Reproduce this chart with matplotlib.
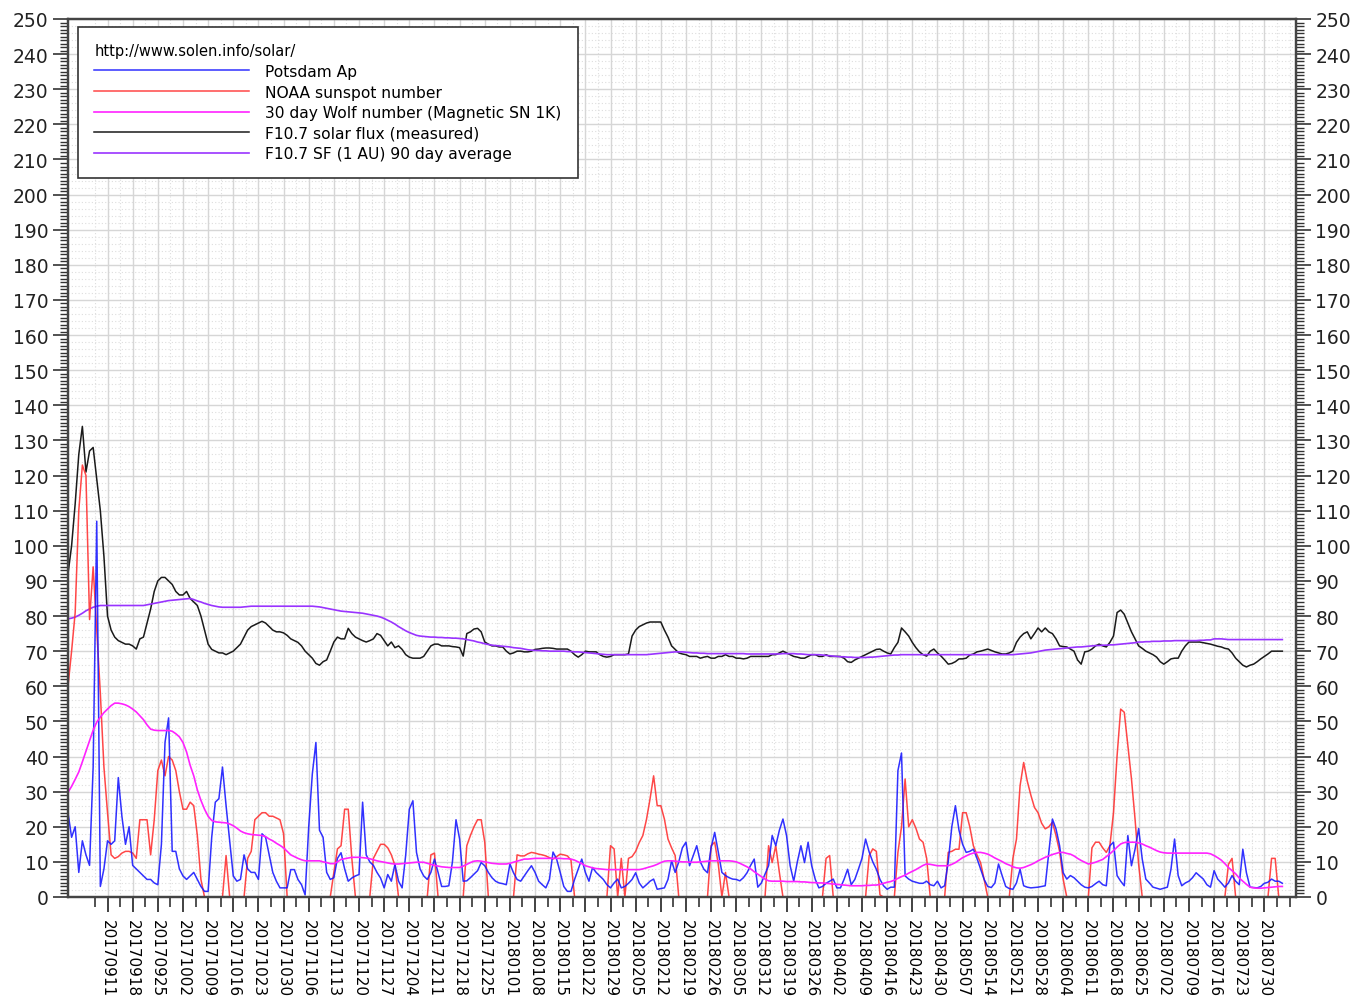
import matplotlib
matplotlib.use("Agg")
import matplotlib.pyplot as plt
import pandas as pd

# daily values, first day 2017-08-31 (one row per 7 days)
start_date = "2017-08-31"

potsdam_ap = [
    24, 17, 20, 7, 16, 12, 9,
    37, 107, 3, 8, 16, 15, 16,
    34, 23, 15, 20, 9, 8, 7,
    6, 5, 5, 4, 3.5, 15, 44,
    51, 13, 13, 8, 6, 5, 6,
    7, 5, 3, 1.6, 1.6, 17, 27,
    28, 37, 26, 16, 6, 4.5, 5,
    12, 8, 7, 7, 5, 18, 17,
    12, 7, 4.5, 2.6, 2.6, 2.6, 7.8,
    7.8, 5, 3.5, 0.6, 20, 35, 44,
    19, 17, 7, 5, 5.5, 11, 12.6,
    8, 4.5, 5.4, 6, 6.4, 27, 12,
    10, 9, 7, 5.4, 2.6, 6.4, 4.5,
    9.3, 4.5, 2.6, 12, 25, 27.4, 12.7,
    8, 6, 5, 7, 10.8, 7, 3,
    3, 3.2, 10, 22, 16.5, 4.5, 4.6,
    5.5, 6.5, 7.5, 9.8, 8.9, 7, 5.5,
    4.5, 4, 3.8, 3.5, 9.4, 6.9, 5,
    4.5, 6, 7.5, 8.9, 7, 4.5, 3.5,
    2.6, 5, 12.8, 10.8, 7, 3, 1.6,
    1.6, 5, 7.9, 10.8, 7, 4.5, 8.4,
    7, 6, 5, 3.5, 2.6, 4, 5.1,
    2.6, 3, 3.9, 5, 6.9, 4, 2.6,
    3.5, 4.5, 5.1, 2.2, 2.4, 2.6, 5,
    10.3, 7, 10, 14, 15.6, 8.9, 11.7,
    14.6, 10, 7.9, 6.9, 14, 18.4, 12.8,
    7, 6.1, 5.5, 5.1, 5, 4.6, 5.5,
    6.9, 9, 10.8, 2.8, 4, 6.5, 8.9,
    17.5, 14.6, 19, 22.2, 17.5, 8.9, 4.5,
    10, 14.6, 9.8, 15.6, 8.9, 5, 2.6,
    3, 3.9, 4.5, 5.1, 2.6, 2.6, 5,
    7.9, 3.5, 5, 7.9, 11, 16.5, 12.8,
    10, 7.9, 5, 3.2, 2.2, 2.8, 2.8,
    36, 41, 6, 5.1, 4.5, 4.2, 3.9,
    3.9, 4.5, 3.5, 3.2, 4.5, 2.6, 3.2,
    10, 20, 26, 19, 15, 12.7, 13,
    13.6, 11, 8, 5, 3, 2.7, 4,
    9.4, 6.1, 3, 2.4, 2.2, 4, 7.9,
    3.2, 2.8, 2.6, 2.7, 2.8, 3, 3.2,
    12.7, 22.2, 19.4, 14.6, 6.9, 5.1, 6.1,
    5.5, 4.5, 3.5, 2.8, 2.6, 3, 3.8,
    4.5, 3.5, 3.2, 14.6, 15.6, 6.1, 4.5,
    3.2, 17.5, 8.9, 13.6, 19.5, 10.8, 5.1,
    4, 2.8, 2.5, 2.2, 2.5, 2.8, 7.9,
    16.5, 6.1, 3.2, 4, 4.5, 5.5, 6.9,
    6, 5.1, 3.5, 2.8, 7.5, 5.1, 4,
    2.8, 4, 6.1, 4.5, 3.5, 13.6, 6.9,
    2.8, 2.7, 2.6, 3, 3.9, 4.2, 5.1,
    4.5, 4.5, 3.9,
]

noaa_ssn = [
    60, 70, 81, 110, 123, 120, 79,
    94, 76, 58, 37, 24, 12, 11,
    11.5, 12.5, 13, 13, 12.5, 11, 22,
    22, 22, 12, 22, 36, 39, 34.5,
    40, 39, 36, 30, 25, 25, 27,
    26, 17.5, 5, 0, 0, 0, 0,
    0, 0, 11.8, 0, 0, 0, 0,
    0, 11, 13, 22, 23, 24, 24,
    23, 23, 22.5, 22, 18, 0, 0,
    0, 0, 0, 0, 0, 0, 0,
    0, 0, 0, 0, 7, 13.7, 14.6,
    25, 25, 11, 0, 0, 0, 0,
    0, 11, 13, 15, 15, 14, 12,
    9, 0, 0, 0, 0, 0, 0,
    0, 0, 0, 12, 12.5, 0, 0,
    0, 0, 0, 0, 0, 0, 14.6,
    17.5, 20, 22, 22, 15.6, 0, 0,
    0, 0, 0, 0, 0, 0, 12,
    11.7, 11.7, 12.3, 12.7, 12.5, 12.2, 12,
    11.7, 11.2, 10.8, 11.5, 12.2, 12, 11.7,
    10.5, 0, 0, 0, 0, 0, 0,
    0, 0, 0, 0, 14.6, 13.7, 0,
    11, 0, 11, 11.5, 13, 15.5, 17.5,
    22, 27.9, 34.5, 26, 26, 22.2, 16.5,
    14, 11.8, 0, 0, 0, 0, 0,
    0, 0, 0, 0, 14.6, 15.6, 9.3,
    0, 7, 0, 0, 0, 0, 0,
    0, 0, 0, 0, 0, 0, 14.6,
    9.8, 14.6, 7, 0, 0, 0, 0,
    0, 0, 0, 0, 0, 0, 0,
    0, 11, 11.8, 0, 0, 0, 0,
    0, 0, 0, 0, 0, 0, 11.8,
    13.7, 13, 0.6, 0, 0, 0, 0,
    12.7, 20, 33.6, 20, 22, 19.6, 16.5,
    15.6, 11, 0, 0, 0, 0, 0,
    12.7, 13, 13.6, 13.6, 24, 24, 20,
    14.6, 12, 9.8, 5, 0, 0, 0,
    0, 0, 0, 0, 11, 16.5, 31.7,
    38.3, 33, 29, 25.5, 24, 21, 19.4,
    20, 21.3, 17.5, 13, 5, 0, 0,
    0, 0, 0, 0, 0, 14, 15.6,
    15.6, 14, 12.7, 14.6, 24, 40.2, 53.5,
    52.6, 43.2, 33.7, 22.2, 9.3, 0, 0,
    0, 0, 0, 0, 0, 0, 0,
    0, 0, 0, 0, 0, 0, 0,
    0, 0, 0, 0, 0, 0, 0,
    0, 9.3, 11, 0, 0, 0, 0,
    0, 0, 0, 0, 0, 0, 11,
    11, 0, 0,
]

wolf_30day = [
    29.8, 31.5, 33.5, 35.6, 38.5, 41.5, 44.5,
    47.5, 49.8, 51.2, 52.5, 53.5, 54.5, 55.2,
    55.2, 55.0, 54.7, 54.2, 53.5, 52.7, 51.6,
    50.5, 49.0, 47.8, 47.5, 47.4, 47.4, 47.4,
    47.4, 47.2, 46.5, 45.6, 44.0, 41.3, 37.5,
    34.5, 30.5, 27.5, 25.0, 23.0, 21.8, 21.4,
    21.3, 21.2, 21.1, 20.8, 20.3, 19.6, 18.8,
    18.3, 18.0, 17.8, 17.7, 17.6, 17.5, 17.2,
    16.5, 16.0, 15.3, 14.7, 14.0, 13.0, 12.0,
    11.5, 11.0, 10.6, 10.3, 10.3, 10.3, 10.3,
    10.3, 10.0, 9.8, 9.5, 9.5, 10.0, 10.7,
    10.9, 11.1, 11.3, 11.3, 11.3, 11.2, 11.1,
    10.9, 10.6, 10.3, 10.1, 9.9, 9.7, 9.5,
    9.4, 9.4, 9.5, 9.6, 9.7, 9.8, 9.9,
    9.9, 9.9, 9.6, 9.3, 9.0, 8.8, 8.6,
    8.5, 8.4, 8.4, 8.4, 8.4, 8.8, 9.3,
    9.8, 10.2, 10.3, 10.2, 10.0, 9.8, 9.6,
    9.5, 9.4, 9.4, 9.4, 9.6, 9.9, 10.2,
    10.5, 10.8, 10.8, 10.9, 11.0, 11.0, 11.0,
    11.0, 11.0, 11.0, 11.0, 11.0, 10.9, 10.9,
    10.8, 10.5, 10.0, 9.5, 8.9, 8.6, 8.3,
    8.1, 8.0, 7.9, 7.8, 7.8, 7.8, 7.8,
    7.8, 7.8, 7.8, 7.8, 7.8, 7.8, 8.0,
    8.3, 8.6, 8.9, 9.3, 9.8, 10.2, 10.3,
    10.3, 10.2, 10.1, 10.0, 10.0, 9.9, 9.9,
    9.9, 10.0, 10.1, 10.2, 10.3, 10.3, 10.3,
    10.3, 10.3, 10.3, 10.2, 10.0, 9.6, 9.1,
    8.6, 8.0, 7.2, 6.5, 5.8, 5.1, 4.6,
    4.5, 4.5, 4.5, 4.5, 4.4, 4.4, 4.4,
    4.4, 4.3, 4.3, 4.2, 4.1, 4.1, 4.0,
    4.0, 3.9, 3.8, 3.7, 3.6, 3.5, 3.4,
    3.3, 3.2, 3.2, 3.2, 3.2, 3.3, 3.3,
    3.4, 3.4, 3.6, 3.9, 4.2, 4.4, 4.8,
    5.3, 5.8, 6.2, 6.8, 7.3, 7.8, 8.4,
    9.0, 9.4, 9.3, 9.1, 8.9, 8.9, 8.9,
    8.9, 9.3, 9.8, 10.5, 11.2, 11.7, 12.2,
    12.5, 12.7, 12.7, 12.5, 12.2, 11.7, 11.1,
    10.6, 10.1, 9.5, 9.1, 8.6, 8.3, 8.2,
    8.4, 8.8, 9.2, 9.7, 10.3, 10.8, 11.3,
    11.7, 12.1, 12.4, 12.7, 12.7, 12.4, 12.2,
    11.7, 11.0, 10.4, 9.9, 9.4, 9.6, 9.9,
    10.3, 10.7, 11.5, 12.3, 13.2, 14.2, 15.1,
    15.5, 15.6, 15.6, 15.6, 15.4, 15.1, 14.6,
    14.2, 13.7, 13.2, 12.8, 12.6, 12.5, 12.5,
    12.5, 12.5, 12.5, 12.5, 12.5, 12.5, 12.5,
    12.5, 12.5, 12.5, 12.3, 11.8, 11.2, 10.5,
    9.5, 8.4, 7.5, 6.6, 5.4, 4.5, 3.6,
    2.8, 2.6, 2.5, 2.5, 2.6, 2.7, 2.8,
    2.9, 3.0, 3.0,
]

f107_flux = [
    92, 100, 112, 126, 134, 121, 127,
    128, 119, 110, 97, 80, 76, 74,
    73, 72.5, 72, 72, 71.5, 70.6, 73.5,
    74, 78, 82, 87, 90, 91, 91,
    90, 89, 87, 86, 86, 87, 85,
    84, 83, 80, 76, 72, 70.5, 70,
    69.5, 69.5, 69, 69.5, 70, 71, 72,
    74, 76, 77, 77.5, 78, 78.5, 78,
    77, 76, 75.5, 75.5, 75.2, 74.5, 73.5,
    73, 72.5, 71.5, 70, 69, 68, 66.5,
    66, 67, 67.5, 70, 72.6, 74, 73.5,
    73.5, 76.5, 75, 74, 73.5, 73, 72.6,
    73, 73.5, 75, 74.5, 73, 71.5, 72.6,
    71, 71.5, 70.5, 69, 68.3, 68, 68,
    68, 68.5, 70, 71.5, 72, 72, 71.5,
    71.5, 71.5, 71.3, 71.2, 71, 68.6, 75,
    75.5, 76.3, 76.5, 75.5, 72.6, 72, 71.5,
    71.5, 71.2, 71.2, 70, 69.2, 69.5, 70,
    70, 69.8, 69.8, 70, 70.5, 70.6, 70.8,
    70.9, 70.9, 70.8, 70.6, 70.6, 70.6, 70.6,
    70, 69, 68.3, 69, 70, 69.8, 69.8,
    69.8, 69, 68.5, 68.3, 68.5, 69, 69,
    69, 69, 69.2, 74.3, 76, 77, 77.5,
    78, 78.3, 78.3, 78.3, 78.3, 76, 74,
    71.5, 70.5, 69.5, 69.2, 69, 68.5, 68.5,
    68.5, 68, 68.3, 68.5, 68, 68, 68.5,
    68.5, 69, 68.5, 68.5, 68, 68, 67.8,
    68, 68.5, 68.5, 68.5, 68.5, 68.5, 68.5,
    69, 69, 69.5, 70, 69.5, 69, 68.5,
    68.3, 68, 68, 68.5, 69, 69, 68.5,
    68.5, 69, 68.5, 68.5, 68.5, 68.5, 68,
    67, 66.8, 67.5, 68, 68.5, 69, 69.5,
    70, 70.5, 70.6, 70, 69.5, 69.2, 71,
    72.5, 76.6, 75.5, 74.3, 72.5, 71, 69.8,
    69, 68.6, 70, 70.6, 69.5, 68.6, 67.5,
    66.3, 66.5, 67, 67.8, 67.8, 68, 68.9,
    69.2, 69.8, 70, 70.3, 70.6, 70.2, 69.8,
    69.5, 69.2, 69.2, 69.5, 70, 72.5, 74,
    75, 75.5, 73.5, 75, 76.6, 75.5, 76.6,
    75.5, 75, 73.5, 71.5, 71.3, 71.2, 70.6,
    70, 67.5, 66.3, 69.8, 70, 70.6, 71.5,
    72, 71.5, 71.2, 72.5, 74.3, 81, 81.7,
    80.5, 78, 75.5, 73.5, 71.5, 70.8, 70,
    69.5, 69, 68.3, 67, 66.3, 67, 67.8,
    68, 68, 70, 71.5, 72.6, 72.6, 72.6,
    72.6, 72.4, 72.2, 72, 71.7, 71.4, 71.2,
    70.8, 70.6, 69.5, 68, 67, 66, 65.5,
    66, 66.3, 67, 67.8, 68.5, 69.2, 70,
    70, 70, 70,
]

f107_avg90 = [
    79.2, 79.4, 79.7, 80.2, 80.8, 81.5, 82.0,
    82.5, 82.8, 83.0, 83.0, 83.0, 83.0, 83.0,
    83.0, 83.0, 83.0, 83.0, 83.0, 83.0, 83.0,
    83.0, 83.2, 83.4, 83.6, 83.8, 84.0, 84.2,
    84.4, 84.5, 84.6, 84.7, 84.8, 84.9, 85.0,
    84.7, 84.3, 84.0, 83.6, 83.3, 83.0, 82.8,
    82.6, 82.5, 82.5, 82.5, 82.5, 82.5, 82.5,
    82.6, 82.7, 82.8, 82.8, 82.8, 82.8, 82.8,
    82.8, 82.8, 82.8, 82.8, 82.8, 82.8, 82.8,
    82.8, 82.8, 82.8, 82.8, 82.8, 82.8, 82.7,
    82.6, 82.4, 82.2, 82.0, 81.8, 81.6, 81.4,
    81.3, 81.2, 81.1, 81.0, 80.9, 80.8, 80.6,
    80.4, 80.2, 80.0, 79.7, 79.3, 78.8, 78.3,
    77.7, 77.0, 76.4, 75.8, 75.3, 74.9, 74.5,
    74.3, 74.2, 74.1, 74.0, 74.0, 73.9, 73.9,
    73.8, 73.8, 73.7, 73.7, 73.6, 73.5, 73.3,
    73.1, 72.9, 72.6, 72.4, 72.1, 71.9, 71.7,
    71.6, 71.5, 71.4, 71.3, 71.2, 71.0, 70.9,
    70.8, 70.6, 70.4, 70.3, 70.2, 70.2, 70.1,
    70.1, 70.0, 70.0, 70.0, 70.0, 70.0, 69.9,
    69.9, 69.8, 69.8, 69.7, 69.6, 69.5, 69.4,
    69.3, 69.2, 69.1, 69.0, 69.0, 69.0, 69.0,
    69.0, 69.0, 69.0, 69.0, 69.0, 69.0, 69.0,
    69.0, 69.1, 69.2, 69.3, 69.4, 69.5, 69.6,
    69.7, 69.8, 69.8, 69.8, 69.7, 69.6, 69.5,
    69.5, 69.4, 69.4, 69.3, 69.3, 69.3, 69.3,
    69.3, 69.3, 69.3, 69.3, 69.3, 69.3, 69.3,
    69.2, 69.2, 69.2, 69.2, 69.2, 69.2, 69.2,
    69.2, 69.2, 69.2, 69.3, 69.3, 69.3, 69.3,
    69.2, 69.2, 69.1, 69.0, 69.0, 69.0, 69.0,
    68.9, 68.8, 68.7, 68.6, 68.5, 68.4, 68.4,
    68.3, 68.3, 68.2, 68.2, 68.2, 68.2, 68.3,
    68.3, 68.4, 68.5, 68.6, 68.7, 68.8, 68.9,
    68.9, 69.0, 69.0, 69.0, 69.0, 69.0, 69.0,
    69.0, 69.0, 69.0, 69.0, 69.0, 69.0, 69.0,
    69.0, 69.0, 69.0, 69.0, 69.0, 69.0, 69.0,
    69.0, 69.0, 69.0, 69.0, 69.0, 69.0, 69.0,
    69.0, 69.0, 69.0, 69.0, 69.0, 69.1, 69.2,
    69.3, 69.4, 69.5, 69.7, 69.9, 70.1, 70.3,
    70.4, 70.5, 70.6, 70.7, 70.8, 70.9, 71.0,
    71.1, 71.2, 71.2, 71.3, 71.4, 71.5, 71.6,
    71.6, 71.7, 71.7, 71.8, 71.8, 71.9, 72.0,
    72.1, 72.2, 72.3, 72.4, 72.6, 72.6, 72.7,
    72.7, 72.8, 72.8, 72.8, 72.9, 72.9, 72.9,
    73.0, 73.0, 73.0, 73.0, 73.0, 73.0, 73.0,
    73.1, 73.1, 73.2, 73.2, 73.5, 73.5, 73.5,
    73.4, 73.3, 73.3, 73.3, 73.3, 73.3, 73.3,
    73.3, 73.3, 73.3, 73.3, 73.3, 73.3, 73.3,
    73.3, 73.3, 73.3,
]

week_labels = pd.date_range("2017-09-11", "2018-07-30", freq="7D")

dates = pd.date_range(start_date, periods=len(f107_flux), freq="D")

W, H = 1367, 1003
fig = plt.figure(figsize=(W / 100, H / 100), dpi=100)
ax = fig.add_axes([68 / W, 1 - 898 / H, (1296 - 68) / W, (898 - 20) / H])

l_flux, = ax.plot(dates, f107_flux, color="#1a1a1a", lw=1.1, label="F10.7 solar flux (measured)")
l_avg, = ax.plot(dates, f107_avg90, color="#9933ff", lw=1.2, label="F10.7 SF (1 AU) 90 day average")
l_ssn, = ax.plot(dates, noaa_ssn, color="#ff3333", lw=1.1, alpha=0.9, label="NOAA sunspot number")
l_ap, = ax.plot(dates, potsdam_ap, color="#1a1aff", lw=1.1, alpha=0.9, label="Potsdam Ap")
l_wolf, = ax.plot(dates, wolf_30day, color="#ff22ff", lw=1.2, label="30 day Wolf number (Magnetic SN 1K)")

x0 = dates[0]
ax.set_xlim(x0, x0 + pd.Timedelta(days=341.8))
ax.set_ylim(0, 250)

ax.set_xticks(week_labels)
ax.set_xticklabels([d.strftime("%Y%m%d") for d in week_labels])
half = pd.Timedelta(hours=84)
minor_x = [d - half for d in week_labels] + [week_labels[-1] + half, week_labels[-1] + 2 * half]
ax.set_xticks(minor_x, minor=True)
ax.set_yticks(range(0, 251, 10))
ax.set_yticks(range(0, 251, 1), minor=True)

# grid: solid weekly / every 10, dotted in between
ax.grid(which="major", color="#d6d6d6", lw=1.0)
for y in range(2, 250, 2):
    if y % 10:
        ax.axhline(y, color="#dedede", lw=0.8, ls=(0, (1, 2)), zorder=0)
for d in minor_x:
    ax.axvline(d, color="#dedede", lw=0.8, ls=(0, (1, 2)), zorder=0)
ax.set_axisbelow(True)

tick_col = "#333333"
ax.tick_params(axis="y", which="major", direction="out", length=11, width=1.2,
               color=tick_col, labelsize=13.5, labelcolor="#222222", pad=3)
ax.tick_params(axis="y", which="minor", direction="out", length=6, width=1.0, color=tick_col)
ax.tick_params(axis="x", which="major", direction="out", length=11, width=1.3,
               color=tick_col, labelsize=11, pad=5)
ax.tick_params(axis="x", which="minor", direction="out", length=7, width=1.2, color=tick_col)
for lab in ax.get_xticklabels():
    lab.set_rotation(-90)
    lab.set_ha("center")
    lab.set_va("top")

for s in ax.spines.values():
    s.set_color("#444444")
    s.set_linewidth(1.6)

ax2 = ax.twinx()
ax2.set_ylim(0, 250)
ax2.set_yticks(range(0, 251, 10))
ax2.set_yticks(range(0, 251, 1), minor=True)
ax2.tick_params(axis="y", which="major", direction="out", length=11, width=1.2,
                color=tick_col, labelsize=13.5, labelcolor="#222222", pad=3)
ax2.tick_params(axis="y", which="minor", direction="out", length=6, width=1.0, color=tick_col)
for s in ax2.spines.values():
    s.set_color("#444444")
    s.set_linewidth(1.6)

handles = [l_ap, l_ssn, l_wolf, l_flux, l_avg]
leg = ax2.legend(handles, [h.get_label() for h in handles], loc="upper left",
                 bbox_to_anchor=(78 / W, 1 - 28 / H), bbox_transform=fig.transFigure,
                 borderaxespad=0, fancybox=False, framealpha=1, edgecolor="#333333",
                 fontsize=11.2, title="http://www.solen.info/solar/", title_fontsize=10.5,
                 alignment="left", handlelength=9.96, handletextpad=1.03,
                 labelspacing=0.36, borderpad=1.05)
leg.get_frame().set_linewidth(1.2)

fig.savefig("out.png", dpi=100)
